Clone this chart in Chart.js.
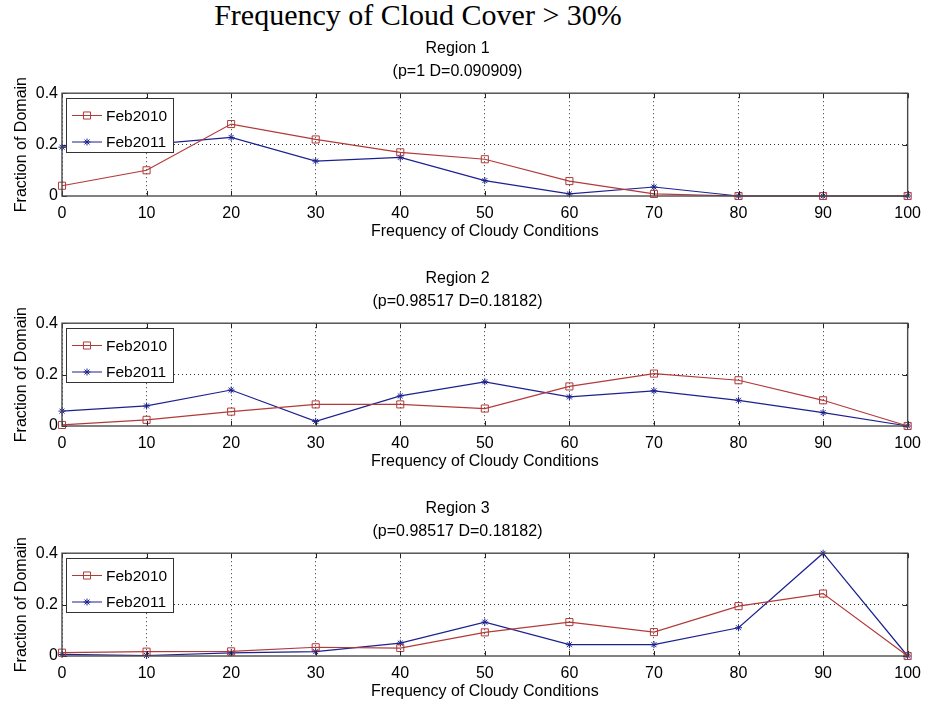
<!DOCTYPE html>
<html>
<head>
<meta charset="utf-8">
<script src="https://cdn.jsdelivr.net/npm/chart.js@4/dist/chart.umd.min.js"></script>
<style>
  html, body { margin: 0; padding: 0; background: #fff; overflow: hidden; }
  body { width: 929px; height: 703px; position: relative; }
  #mainTitle {
    position: absolute; left: 0; top: 0; width: 836px;
    text-align: center; white-space: nowrap;
    font-family: "Liberation Serif", "Times New Roman", serif;
    font-size: 30px; line-height: 30px; color: #000;
  }
  canvas { position: absolute; left: 0; }
</style>
</head>
<body>
<div id="mainTitle">Frequency of Cloud Cover &gt; 30%</div>
<canvas id="region1" width="929" height="206" style="top:35px"></canvas>
<canvas id="region2" width="929" height="206" style="top:265px"></canvas>
<canvas id="region3" width="929" height="206" style="top:495px"></canvas>

<script>
// Frequency of cloudy conditions (%) on the x axis
const cloudyFreq = [0, 10, 20, 30, 40, 50, 60, 70, 80, 90, 100];
const yTicks = [0, 0.2, 0.4];

const seriesNames = ['Feb2010', 'Feb2011'];
const regionNames = ['Region 1', 'Region 2', 'Region 3'];
const regionStats = ['(p=1 D=0.090909)', '(p=0.98517 D=0.18182)', '(p=0.98517 D=0.18182)'];

// Fraction of domain per region and month
const region1Feb2010 = [0.04, 0.10, 0.28, 0.22, 0.17, 0.143, 0.058, 0.008, 0, 0, 0];
const region1Feb2011 = [0.19, 0.20, 0.228, 0.136, 0.15, 0.06, 0.008, 0.035, 0, 0, 0];
const region2Feb2010 = [0.004, 0.024, 0.056, 0.084, 0.084, 0.068, 0.154, 0.204, 0.178, 0.10, 0];
const region2Feb2011 = [0.058, 0.078, 0.14, 0.018, 0.117, 0.172, 0.113, 0.137, 0.10, 0.052, 0];
const region3Feb2010 = [0.013, 0.017, 0.018, 0.034, 0.031, 0.092, 0.132, 0.093, 0.194, 0.243, 0];
const region3Feb2011 = [0.006, 0.002, 0.012, 0.017, 0.05, 0.132, 0.044, 0.044, 0.11, 0.40, 0];

const FONT = '"Liberation Sans", Arial, Helvetica, sans-serif';
Chart.defaults.font.family = FONT;
Chart.defaults.font.size = 16;
Chart.defaults.color = '#000';

const RED = '#b23a3a';
const BLUE = '#1c2190';

function drawMarker(ctx, style, x, y, r, color) {
  ctx.save();
  ctx.strokeStyle = color;
  ctx.lineWidth = 1;
  ctx.beginPath();
  if (style === 'rect') {
    const s = r * Math.SQRT1_2;
    ctx.rect(x - s, y - s, 2 * s, 2 * s);
  } else {
    for (let k = 0; k < 4; k++) {
      const ang = k * Math.PI / 4;
      ctx.moveTo(x - r * Math.cos(ang), y - r * Math.sin(ang));
      ctx.lineTo(x + r * Math.cos(ang), y + r * Math.sin(ang));
    }
  }
  ctx.stroke();
  ctx.restore();
}

// Axes box, inward tick marks and the boxed legend in the upper-left corner
const axesBox = {
  id: 'axesBox',
  afterDatasetsDraw(chart) {
    const { ctx, chartArea: a } = chart;
    const xs = chart.scales.x, ys = chart.scales.y;
    ctx.save();
    ctx.strokeStyle = '#222';
    ctx.lineWidth = 1;
    ctx.beginPath();
    xs.ticks.forEach(t => {
      const px = Math.round(xs.getPixelForValue(t.value)) + 0.5;
      ctx.moveTo(px, a.bottom); ctx.lineTo(px, a.bottom - 5);
      ctx.moveTo(px, a.top); ctx.lineTo(px, a.top + 5);
    });
    ys.ticks.forEach(t => {
      const py = Math.round(ys.getPixelForValue(t.value)) + 0.5;
      ctx.moveTo(a.left, py); ctx.lineTo(a.left + 5, py);
      ctx.moveTo(a.right, py); ctx.lineTo(a.right - 5, py);
    });
    ctx.stroke();

    ctx.strokeStyle = '#4a4a4a';
    ctx.lineWidth = 1.4;
    ctx.strokeRect(a.left, a.top, a.right - a.left, a.bottom - a.top);

    // legend
    const lx = Math.round(a.left) + 4, ly = Math.round(a.top) + 5, lw = 107, lh = 54;
    ctx.fillStyle = '#fff';
    ctx.fillRect(lx, ly, lw, lh);
    ctx.strokeStyle = '#333';
    ctx.lineWidth = 1;
    ctx.strokeRect(lx + 0.5, ly + 0.5, lw, lh);
    chart.data.datasets.forEach((ds, i) => {
      const cy = ly + 17.5 + i * 26.5;
      ctx.strokeStyle = ds.borderColor;
      ctx.lineWidth = 1;
      ctx.beginPath();
      ctx.moveTo(lx + 6, cy); ctx.lineTo(lx + 36, cy);
      ctx.stroke();
      drawMarker(ctx, ds.pointStyle, lx + 21, cy, ds.pointRadius, ds.borderColor);
      ctx.fillStyle = '#000';
      ctx.font = '15.5px ' + FONT;
      ctx.textAlign = 'left';
      ctx.textBaseline = 'middle';
      ctx.fillText(ds.label, lx + 40, cy + 1);
    });
    ctx.restore();
  }
};

function makeRegionChart(canvasId, name, stats, feb2010, feb2011) {
  const toPoints = vals => vals.map((v, i) => ({ x: cloudyFreq[i], y: v }));
  return new Chart(document.getElementById(canvasId), {
    type: 'line',
    data: {
      datasets: [
        {
          label: seriesNames[0], data: toPoints(feb2010),
          borderColor: RED, borderWidth: 1.2, backgroundColor: 'rgba(0,0,0,0)',
          pointStyle: 'rect', pointRadius: 5, pointBorderWidth: 1,
          pointBackgroundColor: 'rgba(0,0,0,0)', pointBorderColor: RED,
          tension: 0, fill: false, clip: false
        },
        {
          label: seriesNames[1], data: toPoints(feb2011),
          borderColor: BLUE, borderWidth: 1.2, backgroundColor: 'rgba(0,0,0,0)',
          pointStyle: 'star', pointRadius: 3.5, pointBorderWidth: 1,
          pointBackgroundColor: BLUE, pointBorderColor: BLUE,
          tension: 0, fill: false, clip: false
        }
      ]
    },
    options: {
      responsive: false,
      animation: false,
      events: [],
      layout: { padding: { left: 0, right: 14, top: 0, bottom: 0 } },
      plugins: {
        legend: { display: false },
        tooltip: { enabled: false },
        title: {
          display: true, text: name, color: '#000',
          font: { size: 16, weight: 'normal' },
          padding: { top: 4, bottom: 0 }
        },
        subtitle: {
          display: true, text: stats, color: '#000',
          font: { size: 16, weight: 'normal' },
          padding: { top: 4, bottom: 11.8 }
        }
      },
      scales: {
        x: {
          type: 'linear', min: 0, max: 100,
          afterFit: s => { s.height = 45; },
          afterBuildTicks: s => { s.ticks = cloudyFreq.map(v => ({ value: v })); },
          ticks: { padding: 8, color: '#000', font: { size: 16 } },
          grid: { drawTicks: false, color: '#333', lineWidth: 1 },
          border: { display: false, dash: [1, 3] },
          title: {
            display: true, text: 'Frequency of Cloudy Conditions', color: '#000',
            font: { size: 16 }, padding: { top: 0, bottom: 0 }
          }
        },
        y: {
          type: 'linear', min: 0, max: 0.4,
          afterFit: s => { s.width = 62; },
          afterBuildTicks: s => { s.ticks = yTicks.map(v => ({ value: v })); },
          ticks: { padding: 4, color: '#000', font: { size: 16 } },
          grid: {
            drawTicks: false, lineWidth: 1,
            color: c => (c.tick && c.tick.value > 0 && c.tick.value < 0.4) ? '#333' : 'rgba(0,0,0,0)'
          },
          border: { display: false, dash: [1, 3] },
          title: {
            display: true, text: 'Fraction of Domain', color: '#000',
            font: { size: 16 }, padding: { top: 12, bottom: 0 }
          }
        }
      }
    },
    plugins: [axesBox]
  });
}

makeRegionChart('region1', regionNames[0], regionStats[0], region1Feb2010, region1Feb2011);
makeRegionChart('region2', regionNames[1], regionStats[1], region2Feb2010, region2Feb2011);
makeRegionChart('region3', regionNames[2], regionStats[2], region3Feb2010, region3Feb2011);
</script>
</body>
</html>
